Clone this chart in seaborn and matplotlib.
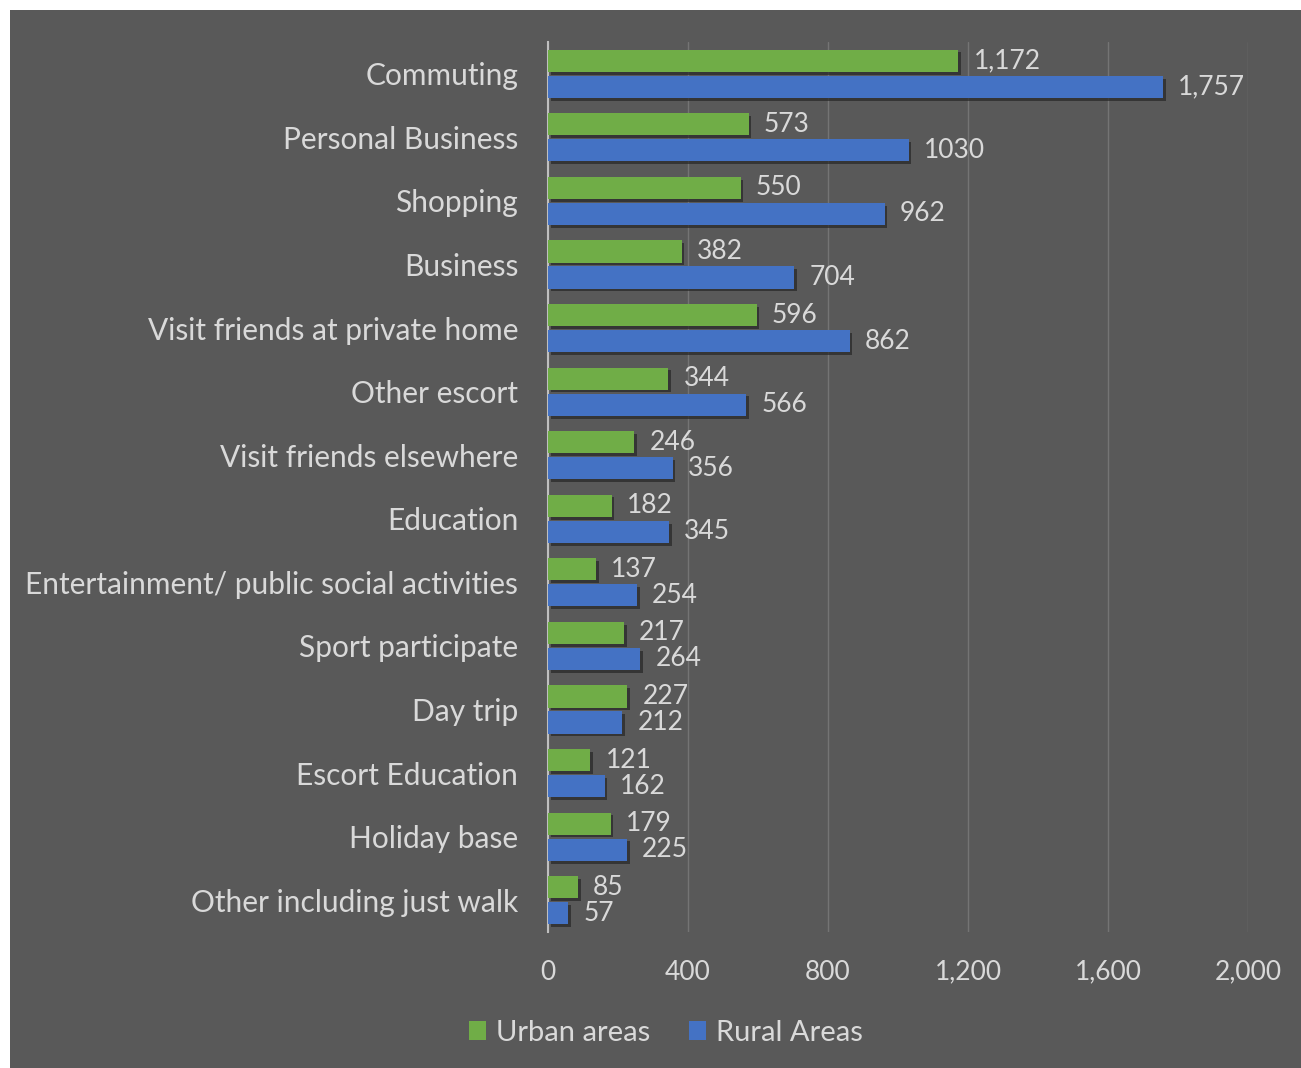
import matplotlib
matplotlib.use("Agg")
import matplotlib.pyplot as plt
import matplotlib.patheffects as pe
from matplotlib.patches import Rectangle
import seaborn as sns
import pandas as pd

categories = [
    "Commuting", "Personal Business", "Shopping", "Business",
    "Visit friends at private home", "Other escort", "Visit friends elsewhere",
    "Education", "Entertainment/ public social activities", "Sport participate",
    "Day trip", "Escort Education", "Holiday base", "Other including just walk",
]
urban = [1172, 573, 550, 382, 596, 344, 246, 182, 137, 217, 227, 121, 179, 85]
rural = [1757, 1030, 962, 704, 862, 566, 356, 345, 254, 264, 212, 162, 225, 57]
urban_labels = ["1,172", "573", "550", "382", "596", "344", "246", "182", "137",
                "217", "227", "121", "179", "85"]
rural_labels = ["1,757", "1030", "962", "704", "862", "566", "356", "345", "254",
                "264", "212", "162", "225", "57"]
series = ["Urban areas", "Rural Areas"]
xticks = [0, 400, 800, 1200, 1600, 2000]
xtick_labels = ["0", "400", "800", "1,200", "1,600", "2,000"]

BG = "#595959"
TXT = "#D9D9D9"
GREEN = "#70AD47"
BLUE = "#4472C4"

df = pd.DataFrame({
    "category": categories * 2,
    "value": urban + rural,
    "series": [series[0]] * len(categories) + [series[1]] * len(categories),
})

sns.set_theme(style="white")
plt.rcParams["font.family"] = ["Lato", "DejaVu Sans"]

fig = plt.figure(figsize=(13.01, 10.68), dpi=100, facecolor="white")
fig.patches.append(Rectangle((10 / 1301, 0), 1 - 10 / 1301, 1 - 10 / 1068,
                             transform=fig.transFigure, facecolor=BG,
                             edgecolor="none", zorder=-10))
ax = fig.add_axes([548 / 1301, 1 - 932 / 1068, 700 / 1301, 890 / 1068])
ax.set_facecolor(BG)

sns.barplot(data=df, y="category", x="value", hue="series", orient="h",
            palette=[GREEN, BLUE], width=0.82, gap=0.15, ax=ax,
            saturation=1, legend=False, order=categories, hue_order=series,
            linewidth=0, edgecolor="none")

shadow = [pe.SimplePatchShadow(offset=(2, -2), shadow_rgbFace="#262626", alpha=0.7),
          pe.Normal()]
for patch in ax.patches:
    patch.set_path_effects(shadow)
    patch.set_linewidth(0)
    patch.set_zorder(3)

for container, labels in zip(ax.containers, [urban_labels, rural_labels]):
    ax.bar_label(container, labels=labels, padding=11, color=TXT, fontsize=19)

ax.set_xlim(0, 2000)
ax.set_ylim(len(categories) - 0.5, -0.5)
ax.set_xticks(xticks)
ax.set_xticklabels(xtick_labels)
ax.grid(axis="x", color="#747474", linewidth=1, zorder=0)
ax.set_axisbelow(True)
ax.tick_params(axis="x", colors=TXT, labelsize=19, length=0, pad=20)
ax.tick_params(axis="y", colors=TXT, labelsize=21.5, length=0, pad=21.5)
for lbl in ax.get_yticklabels():
    lbl.set_color(TXT)
for s in ["top", "right", "bottom"]:
    ax.spines[s].set_visible(False)
ax.spines["left"].set_color("#BFBFBF")
ax.spines["left"].set_linewidth(1.5)
ax.set_xlabel("")
ax.set_ylabel("")

handles = [Rectangle((0, 0), 1, 1, facecolor=GREEN, linewidth=0),
           Rectangle((0, 0), 1, 1, facecolor=BLUE, linewidth=0)]
fig.legend(handles, series, loc="center", bbox_to_anchor=(666 / 1301, 1 - 1033 / 1068),
           ncol=2, frameon=False, fontsize=21, labelcolor=TXT,
           handlelength=0.6, handleheight=0.6, handletextpad=0.35, columnspacing=1.3)

fig.savefig("out.png", dpi=100, facecolor="white")
